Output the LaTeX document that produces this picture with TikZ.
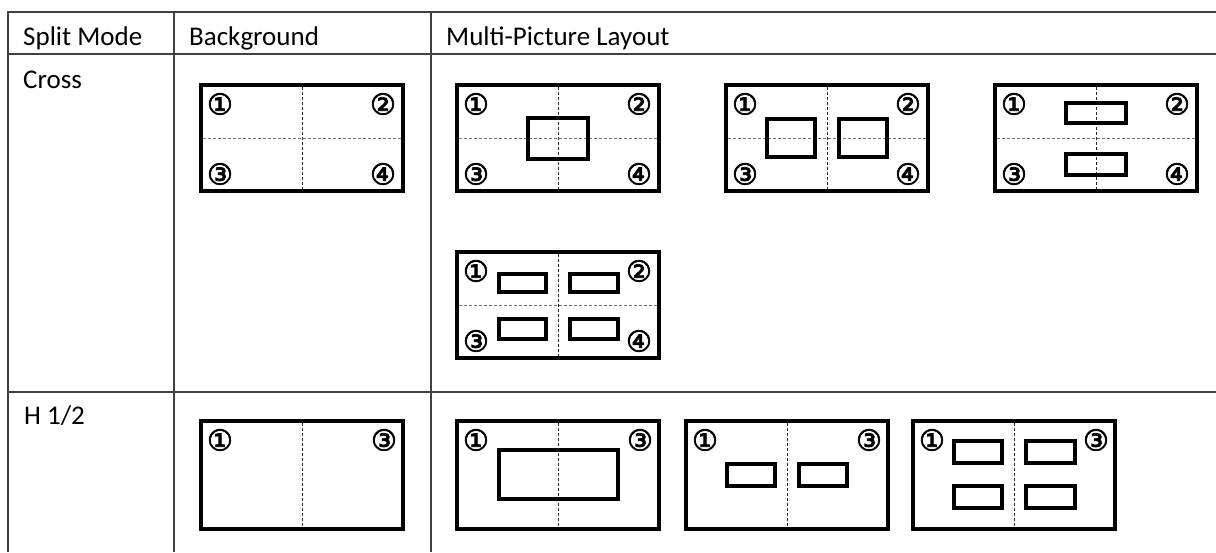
\documentclass[tikz,border=0pt]{standalone}
\usepackage{fontspec}
\setmainfont{Carlito}
\newfontfamily\circfont[FakeBold=2.5]{DejaVu Sans}
\newcommand\screenbox[4]{% name, left, top, height (outer)
  \pgfmathsetmacro\scx{#2+103}\pgfmathsetmacro\scy{#3+#4/2}\pgfmathsetmacro\sch{#4-4}%
  \node[scr, minimum height=\sch pt] (#1) at (\scx,\scy) {};}
\newcommand\winrect[5]{% name, x1, y1, x2, y2 (outer)
  \pgfmathsetmacro\wcx{(#2+#4)/2}\pgfmathsetmacro\wcy{(#3+#5)/2}%
  \pgfmathsetmacro\wwd{#4-#2-4}\pgfmathsetmacro\wht{#5-#3-4}%
  \node[win, minimum width=\wwd pt, minimum height=\wht pt] (#1) at (\wcx,\wcy) {};}
\newcommand\myvdivline[1]{\draw[vdiv] (#1.north) -- (#1.south);}
\newcommand\myhdivline[1]{\draw[hdiv] (#1.west) -- (#1.east);}
\newcommand\numsfour[1]{%
  \node[num] (#1-n1) at ([xshift=21pt,yshift=-21pt]#1.north west) {①};
  \node[num] (#1-n2) at ([xshift=-22pt,yshift=-21pt]#1.north east) {②};
  \node[num] (#1-n3) at ([xshift=21pt,yshift=19pt]#1.south west) {③};
  \node[num] (#1-n4) at ([xshift=-22pt,yshift=19pt]#1.south east) {④};}
\newcommand\numstwo[1]{%
  \node[num] (#1-n1) at ([xshift=21pt,yshift=-21pt]#1.north west) {①};
  \node[num] (#1-n3) at ([xshift=-21pt,yshift=-21pt]#1.north east) {③};}
\begin{document}
\begin{tikzpicture}[x=1pt,y=-1pt,
  grid/.style={line width=1.3pt, draw=black!75},
  hdr/.style={anchor=base west, font=\fontsize{27}{32}\selectfont, inner sep=0pt},
  scr/.style={draw=black, line width=4pt, minimum width=202pt, inner sep=0pt, outer sep=2pt},
  win/.style={draw=black, line width=4pt, inner sep=0pt, outer sep=2pt},
  num/.style={font=\circfont\fontsize{29}{29}\selectfont, inner sep=0pt},
  vdiv/.style={dash pattern=on 3pt off 2pt, line width=1pt, draw=black!85, shorten <=4pt, shorten >=4pt},
  hdiv/.style={dash pattern=on 3pt off 2pt, line width=1pt, draw=black!55, shorten <=4pt, shorten >=4pt}]
\useasboundingbox (0,0) rectangle (1216,552);
% table grid
\draw[grid] (1216,12) -- (8,12) -- (8,552);
\draw[grid] (8,54) -- (1216,54);
\draw[grid] (8,392) -- (1216,392);
\draw[grid] (174,12) -- (174,552);
\draw[grid] (431,12) -- (431,552);
% texts
\node[hdr] (tsplit) at (23,45) {Split Mode};
\node[hdr] (tbg) at (189,45) {Background};
\node[hdr] (tmulti) at (446,45) {Multi-Picture Layout};
\node[hdr] (tcross) at (23,88) {Cross};
\node[hdr] (thalf) at (24,424) {H 1/2};
% Cross row screens
\screenbox{cb}{199}{83}{110}
\screenbox{ca}{455}{83}{110}
\screenbox{cc}{724}{83}{110}
\screenbox{cd}{993}{83}{110}
\screenbox{ce}{455}{250}{110}
\foreach \s in {cb,ca,cc,cd,ce}{\myvdivline{\s}\myhdivline{\s}\numsfour{\s}}
% Cross row windows
\winrect{ca-w1}{526}{116}{590}{161}
\winrect{cc-w1}{765}{117}{817}{159}
\winrect{cc-w2}{837}{117}{889}{159}
\winrect{cd-w1}{1064}{101}{1128}{125}
\winrect{cd-w2}{1064}{152}{1128}{177}
\winrect{ce-w1}{497}{272}{548}{294}
\winrect{ce-w2}{568}{272}{620}{294}
\winrect{ce-w3}{497}{317}{548}{341}
\winrect{ce-w4}{568}{317}{620}{341}
% H 1/2 row screens
\screenbox{hb}{199}{419}{112}
\screenbox{ha}{455}{419}{112}
\screenbox{hc}{684}{419}{112}
\screenbox{hd}{911}{419}{112}
\foreach \s in {hb,ha,hc,hd}{\myvdivline{\s}\numstwo{\s}}
% H 1/2 row windows
\winrect{ha-w1}{497}{448}{620}{501}
\winrect{hc-w1}{725}{462}{777}{488}
\winrect{hc-w2}{797}{462}{849}{488}
\winrect{hd-w1}{952}{439}{1004}{465}
\winrect{hd-w2}{1024}{439}{1077}{465}
\winrect{hd-w3}{952}{484}{1004}{510}
\winrect{hd-w4}{1024}{484}{1077}{510}
\end{tikzpicture}
\end{document}
